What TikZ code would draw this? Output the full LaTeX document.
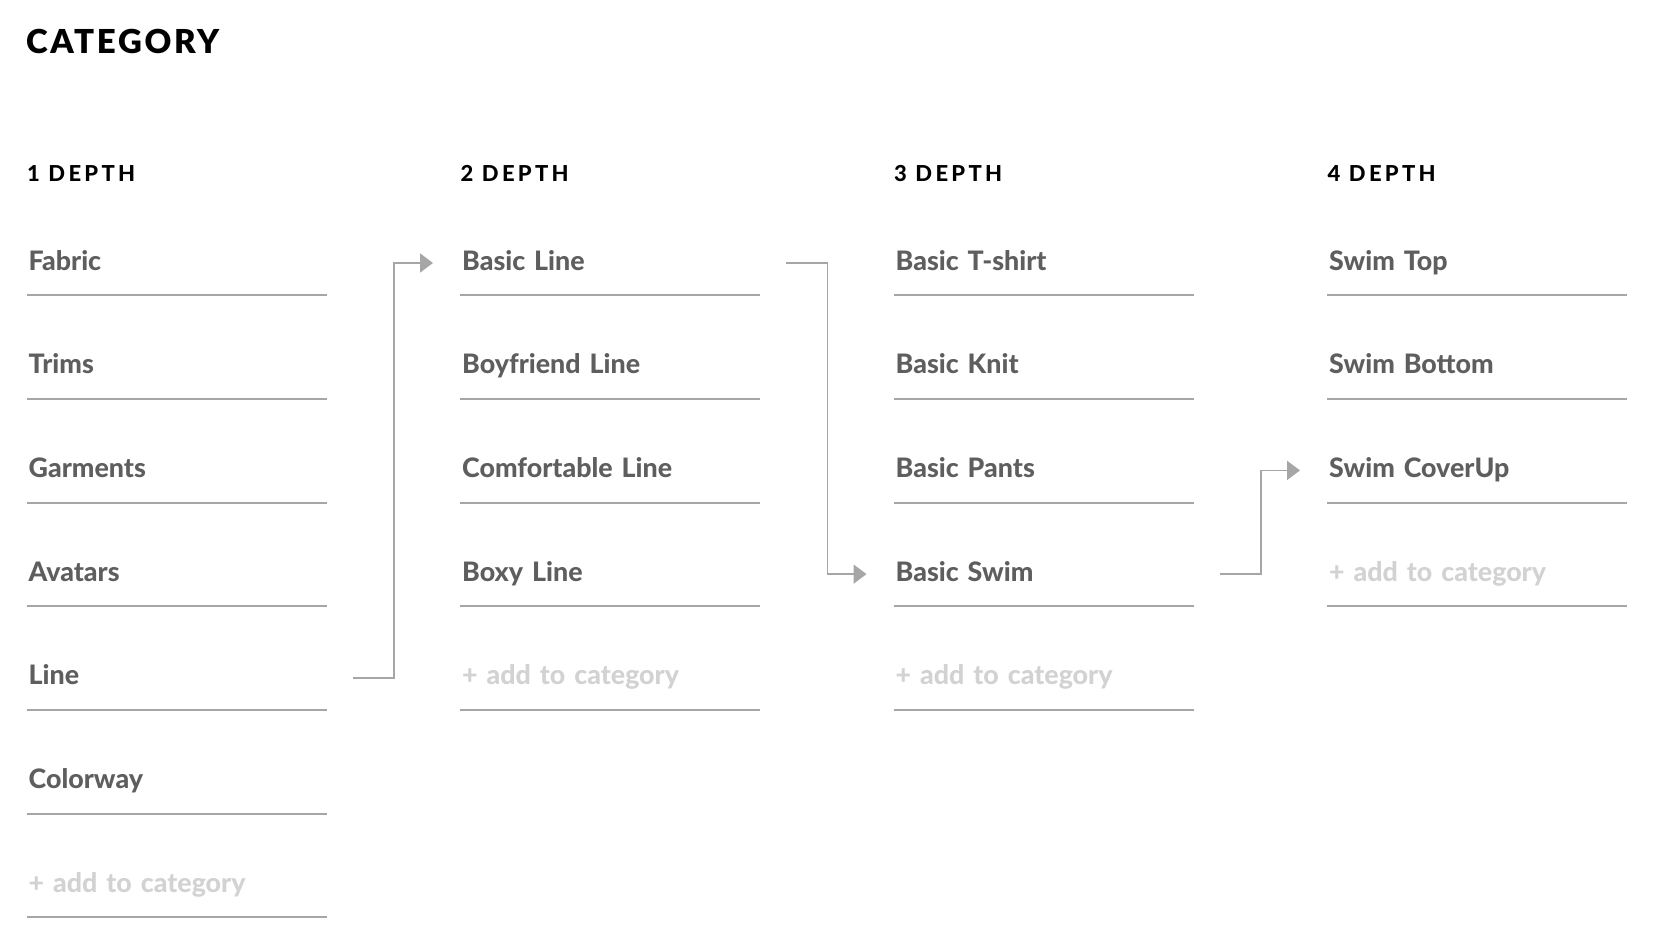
\documentclass[tikz,border=0pt]{standalone}
\usepackage{fontspec}
\setmainfont{Lato}
\newfontfamily\headfont[LetterSpace=8]{Lato Black}
\newfontfamily\depthfont[LetterSpace=15]{Lato Heavy}
\newfontfamily\itemfont[WordSpace=0.75]{Lato Heavy}
\usetikzlibrary{arrows.meta,positioning}

\definecolor{itemgrey}{HTML}{5E5E5E}
\definecolor{addgrey}{HTML}{D2D2D2}
\definecolor{rulegrey}{HTML}{A6A6A6}

\tikzset{
  entry/.style={anchor=west, text width=296pt, inner xsep=2pt, inner ysep=0pt,
    minimum height=64pt, text height=18pt, text depth=4pt,
    font=\itemfont\fontsize{26.8}{30}\selectfont, text=itemgrey,
    append after command={(\tikzlastnode.south west) edge[rule] (\tikzlastnode.south east)}},
  addentry/.style={entry, text=addgrey},
  rule/.style={draw=rulegrey, line width=2pt},
  depth/.style={anchor=base west, inner sep=0pt, font=\depthfont\fontsize{22}{26}\selectfont},
  link/.style={draw=rulegrey, line width=1.8pt, -{Triangle[length=13pt,width=19pt]}}
}

\begin{document}
\begin{tikzpicture}[x=1pt,y=-1pt]
\useasboundingbox (0,0) rectangle (1658,936);
\node[anchor=base west, inner sep=0pt, font=\headfont\fontsize{33}{38}\selectfont] (title) at (26,54) {CATEGORY};

% headings
\node[depth] (d1) at (27,182) {1 DEPTH};
\node[depth] (d2) at (460.5,182) {2 DEPTH};
\node[depth] (d3) at (894,182) {3 DEPTH};
\node[depth] (d4) at (1327.5,182) {4 DEPTH};

% 1 depth
\node[entry] (fabric) at (26.5,263) {Fabric};
\node[entry] (trims) at (26.5,366.7) {Trims};
\node[entry] (garments) at (26.5,470.4) {Garments};
\node[entry] (avatars) at (26.5,574.1) {Avatars};
\node[entry] (line) at (26.5,677.8) {Line};
\node[entry] (colorway) at (26.5,781.5) {Colorway};
\node[addentry] (add1) at (26.5,885.2) {+ add to category};

% 2 depth
\node[entry] (basicline) at (460,263) {Basic Line};
\node[entry] (boyfriend) at (460,366.7) {Boyfriend Line};
\node[entry] (comfortable) at (460,470.4) {Comfortable Line};
\node[entry] (boxy) at (460,574.1) {Boxy Line};
\node[addentry] (add2) at (460,677.8) {+ add to category};

% 3 depth
\node[entry] (tshirt) at (893.5,263) {Basic T-shirt};
\node[entry] (knit) at (893.5,366.7) {Basic Knit};
\node[entry] (pants) at (893.5,470.4) {Basic Pants};
\node[entry] (swim) at (893.5,574.1) {Basic Swim};
\node[addentry] (add3) at (893.5,677.8) {+ add to category};

% 4 depth
\node[entry] (swimtop) at (1327,263) {Swim Top};
\node[entry] (swimbottom) at (1327,366.7) {Swim Bottom};
\node[entry] (coverup) at (1327,470.4) {Swim CoverUp};
\node[addentry] (add4) at (1327,574.1) {+ add to category};

% links
\draw[link] ([xshift=26pt]line.east) -- ++(41,0) |- ([xshift=-27pt]basicline.west);
\draw[link] ([xshift=26pt]basicline.east) -- ++(41,0) |- ([xshift=-27pt]swim.west);
\draw[link] ([xshift=26pt]swim.east) -- ++(41,0) |- ([xshift=-27pt]coverup.west);
\end{tikzpicture}
\end{document}
